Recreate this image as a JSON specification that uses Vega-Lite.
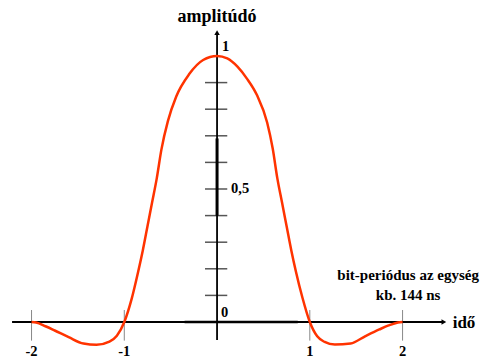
{
  "$schema": "https://vega.github.io/schema/vega-lite/v6.json",
  "width": 488,
  "height": 362,
  "padding": 0,
  "autosize": {"type": "fit", "contains": "padding"},
  "background": "white",
  "config": {"view": {"stroke": null}},
  "datasets": {
    "pulse": [
      {"t": -2.0, "a": 0.0},
      {"t": -1.95, "a": -0.002},
      {"t": -1.85, "a": -0.016},
      {"t": -1.75, "a": -0.032},
      {"t": -1.6, "a": -0.057},
      {"t": -1.44, "a": -0.081},
      {"t": -1.3, "a": -0.086},
      {"t": -1.16, "a": -0.074},
      {"t": -1.08, "a": -0.052},
      {"t": -1.0, "a": 0.0},
      {"t": -0.92, "a": 0.088},
      {"t": -0.85, "a": 0.19},
      {"t": -0.8, "a": 0.27},
      {"t": -0.75, "a": 0.36},
      {"t": -0.7, "a": 0.45},
      {"t": -0.65, "a": 0.54},
      {"t": -0.6, "a": 0.648},
      {"t": -0.53, "a": 0.755},
      {"t": -0.44, "a": 0.848},
      {"t": -0.3, "a": 0.932},
      {"t": -0.15, "a": 0.985},
      {"t": 0.0, "a": 1.0},
      {"t": 0.11, "a": 0.991},
      {"t": 0.22, "a": 0.96},
      {"t": 0.32, "a": 0.916},
      {"t": 0.43, "a": 0.853},
      {"t": 0.54, "a": 0.75},
      {"t": 0.6, "a": 0.652},
      {"t": 0.65, "a": 0.54},
      {"t": 0.7, "a": 0.45},
      {"t": 0.75, "a": 0.36},
      {"t": 0.8, "a": 0.27},
      {"t": 0.85, "a": 0.19},
      {"t": 0.92, "a": 0.092},
      {"t": 1.0, "a": 0.0},
      {"t": 1.08, "a": -0.054},
      {"t": 1.16, "a": -0.075},
      {"t": 1.27, "a": -0.085},
      {"t": 1.44, "a": -0.081},
      {"t": 1.6, "a": -0.053},
      {"t": 1.75, "a": -0.028},
      {"t": 1.85, "a": -0.013},
      {"t": 1.95, "a": -0.002},
      {"t": 2.0, "a": 0.0}
    ],
    "yticks": [
      {"v": 0.1}, {"v": 0.2}, {"v": 0.3}, {"v": 0.4}, {"v": 0.5},
      {"v": 0.6}, {"v": 0.7}, {"v": 0.8}, {"v": 0.9}
    ],
    "xticks": [
      {"v": -2, "label": "-2"},
      {"v": -1, "label": "-1"},
      {"v": 1, "label": "1"},
      {"v": 2, "label": "2"}
    ]
  },
  "resolve": {"scale": {"x": "shared", "y": "shared"}},
  "encoding": {
    "x": {"type": "quantitative", "scale": {"domain": [-2.34, 2.921], "nice": false, "zero": false}, "axis": null},
    "y": {"type": "quantitative", "scale": {"domain": [-0.1504, 1.2105], "nice": false, "zero": false}, "axis": null}
  },
  "layer": [
    {
      "data": {"name": "xticks"},
      "mark": {"type": "rule", "color": "#888888", "strokeWidth": 1},
      "encoding": {
        "x": {"field": "v", "type": "quantitative"},
        "y": {"datum": 0.045},
        "y2": {"datum": -0.07}
      }
    },
    {
      "data": {"name": "yticks"},
      "mark": {"type": "rule", "color": "#555555", "strokeWidth": 1.5},
      "encoding": {
        "x": {"datum": -0.13},
        "x2": {"datum": 0.11},
        "y": {"field": "v", "type": "quantitative"}
      }
    },
    {
      "data": {"values": [{}]},
      "mark": {"type": "rule", "color": "black", "strokeWidth": 1.8},
      "encoding": {
        "x": {"datum": -2.21},
        "x2": {"datum": 2.44},
        "y": {"datum": 0}
      }
    },
    {
      "data": {"values": [{}]},
      "mark": {"type": "rule", "color": "black", "strokeWidth": 2.6},
      "encoding": {
        "x": {"datum": -0.35},
        "x2": {"datum": 0.87},
        "y": {"datum": 0}
      }
    },
    {
      "data": {"values": [{}]},
      "mark": {"type": "rule", "color": "black", "strokeWidth": 1.8},
      "encoding": {
        "x": {"datum": 0},
        "y": {"datum": -0.068},
        "y2": {"datum": 1.08}
      }
    },
    {
      "data": {"values": [{}]},
      "mark": {"type": "rule", "color": "black", "strokeWidth": 3},
      "encoding": {
        "x": {"datum": 0},
        "y": {"datum": 0.4},
        "y2": {"datum": 0.69}
      }
    },
    {
      "data": {"values": [{}]},
      "mark": {"type": "point", "shape": "triangle-right", "filled": true, "color": "black", "size": 30, "opacity": 1},
      "encoding": {"x": {"datum": 2.445}, "y": {"datum": 0}}
    },
    {
      "data": {"values": [{}]},
      "mark": {"type": "point", "shape": "triangle-up", "filled": true, "color": "black", "size": 30, "opacity": 1},
      "encoding": {"x": {"datum": 0}, "y": {"datum": 1.088}}
    },
    {
      "data": {"name": "pulse"},
      "mark": {"type": "line", "color": "#ff3300", "strokeWidth": 2.5, "interpolate": "monotone"},
      "encoding": {
        "x": {"field": "t", "type": "quantitative"},
        "y": {"field": "a", "type": "quantitative"}
      }
    },
    {
      "data": {"name": "xticks"},
      "mark": {"type": "text", "font": "Liberation Serif", "fontWeight": "bold", "fontSize": 14.5, "align": "center", "baseline": "middle", "color": "black"},
      "encoding": {
        "x": {"field": "v", "type": "quantitative"},
        "y": {"datum": -0.113},
        "text": {"field": "label"}
      }
    },
    {
      "data": {"values": [
        {"t": 0.0, "a": 1.147, "s": "amplitúdó"}
      ]},
      "mark": {"type": "text", "font": "Liberation Serif", "fontWeight": "bold", "fontSize": 18, "align": "center", "baseline": "middle", "color": "black"},
      "encoding": {
        "x": {"field": "t", "type": "quantitative"},
        "y": {"field": "a", "type": "quantitative"},
        "text": {"field": "s"}
      }
    },
    {
      "data": {"values": [
        {"t": 0.054, "a": 1.034, "s": "1"},
        {"t": 0.151, "a": 0.5, "s": "0,5"},
        {"t": 0.043, "a": 0.034, "s": "0"}
      ]},
      "mark": {"type": "text", "font": "Liberation Serif", "fontWeight": "bold", "fontSize": 14.5, "align": "left", "baseline": "middle", "color": "black"},
      "encoding": {
        "x": {"field": "t", "type": "quantitative"},
        "y": {"field": "a", "type": "quantitative"},
        "text": {"field": "s"}
      }
    },
    {
      "data": {"values": [
        {"t": 2.54, "a": -0.004, "s": "idő"}
      ]},
      "mark": {"type": "text", "font": "Liberation Serif", "fontWeight": "bold", "fontSize": 17, "align": "left", "baseline": "middle", "color": "black"},
      "encoding": {
        "x": {"field": "t", "type": "quantitative"},
        "y": {"field": "a", "type": "quantitative"},
        "text": {"field": "s"}
      }
    },
    {
      "data": {"values": [
        {"t": 2.06, "a": 0.177, "s": "bit-periódus az egység"},
        {"t": 2.06, "a": 0.1, "s": "kb. 144 ns"}
      ]},
      "mark": {"type": "text", "font": "Liberation Serif", "fontWeight": "bold", "fontSize": 15, "align": "center", "baseline": "middle", "color": "black"},
      "encoding": {
        "x": {"field": "t", "type": "quantitative"},
        "y": {"field": "a", "type": "quantitative"},
        "text": {"field": "s"}
      }
    }
  ]
}
